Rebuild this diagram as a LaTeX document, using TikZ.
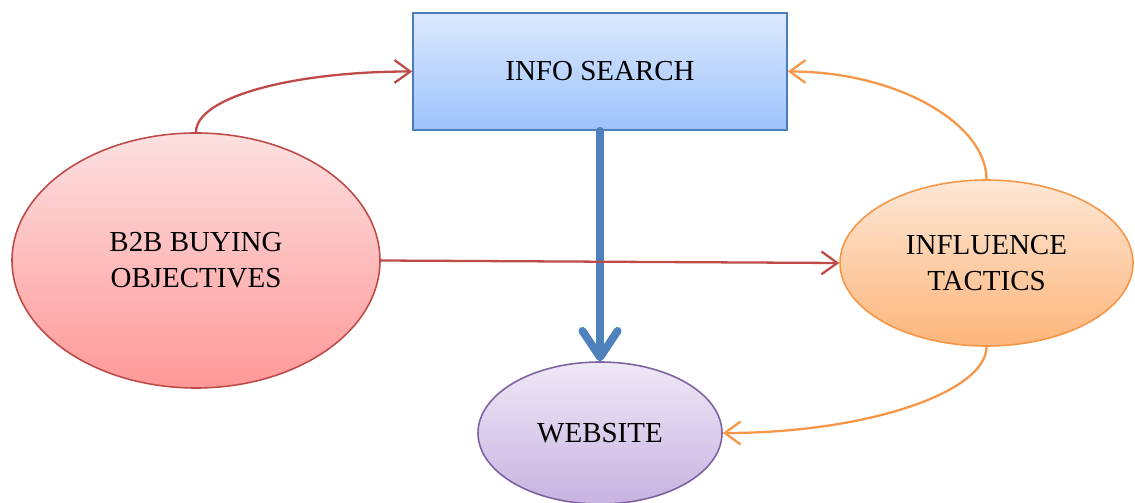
\documentclass[tikz,border=0pt]{standalone}
\usepackage{fontspec}
\setmainfont{Liberation Serif}
\usetikzlibrary{arrows.meta,shapes.geometric}

\definecolor{infoline}{HTML}{4A7EBB}
\definecolor{infotop}{HTML}{DCE9FE}
\definecolor{infobot}{HTML}{9DC2FB}
\definecolor{buyline}{HTML}{BE4B48}
\definecolor{buytop}{HTML}{FCE0E0}
\definecolor{buybot}{HTML}{FF9898}
\definecolor{inflline}{HTML}{F79646}
\definecolor{infltop}{HTML}{FDE7D6}
\definecolor{inflbot}{HTML}{FDB57A}
\definecolor{webline}{HTML}{7E61A0}
\definecolor{webtop}{HTML}{EEE8F6}
\definecolor{webbot}{HTML}{C8B3E1}
\definecolor{flowblue}{HTML}{4F81BD}

\tikzset{
  lbl/.style={font=\fontsize{16.5}{20.5}\selectfont, align=center, inner sep=0pt},
  blob/.style={ellipse, lbl, line width=0.9pt},
  thin arrow/.style={line width=1.3pt, -{Straight Barb[length=9pt,width=13pt]}}
}

\begin{document}
\begin{tikzpicture}
        \useasboundingbox (0,0) rectangle (22.7,10.04);
        \node[lbl, rectangle, draw=infoline, line width=0.9pt, top color=infotop, bottom color=infobot,
              minimum width=7.48cm, minimum height=2.34cm] (INFO) at (12.0,8.61) {INFO SEARCH};
        \node[blob, draw=buyline, top color=buytop, bottom color=buybot,
              minimum width=7.36cm, minimum height=5.1cm] (B2B) at (3.92,4.83) {B2B BUYING\\OBJECTIVES};
        \node[blob, draw=inflline, top color=infltop, bottom color=inflbot,
              minimum width=5.86cm, minimum height=3.32cm] (INFL) at (19.73,4.78) {INFLUENCE\\TACTICS};
        \node[blob, draw=webline, top color=webtop, bottom color=webbot,
              minimum width=4.88cm, minimum height=2.84cm] (WEB) at (12.0,1.38) {WEBSITE};
        \draw[flowblue, line width=4.5pt, line cap=round,
              -{Straight Barb[round,length=15pt,width=20pt]}] (INFO.south)--(WEB.north);
        \draw[buyline, thin arrow] (B2B.east)--(INFL.west);
        \draw[buyline, thin arrow] (B2B.north) .. controls +(0,0.7) and +(-2.4,0) .. (INFO.west);
        \draw[inflline, thin arrow] (INFL.north) .. controls +(0,1.1) and +(2.2,0) .. (INFO.east);
        \draw[inflline, thin arrow] (INFL.south) .. controls +(0,-0.9) and +(2.9,0) .. (WEB.east);
    \end{tikzpicture}
\end{document}
